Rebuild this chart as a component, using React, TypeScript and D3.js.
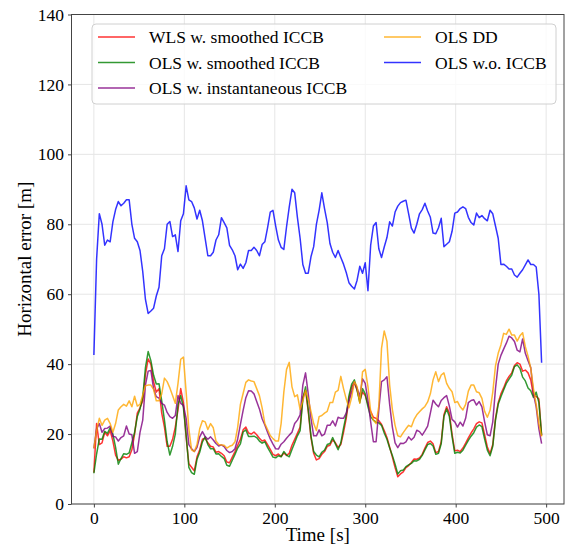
import React, { useRef, useEffect } from "react";
import * as d3 from "d3";

// sampled every 3 s, t = 0 .. 495
const STEP = 3;

const wlsSmoothed = [
  9, 23, 17, 17.5, 20.5, 19.5, 21, 18, 14, 12.5,
  12.8, 13.5, 13.2, 13.5, 15.5, 20, 26, 27.5, 29.5, 37,
  41.5, 40, 35, 32, 33, 26, 22, 16.5, 16.5, 18.5,
  22, 27, 33, 29, 19, 11.5, 10.5, 9.5, 13.5, 15.5,
  18.5, 18.8, 17.5, 16.5, 16.3, 14.8, 15, 14.5, 13.8, 12,
  11.8, 13.4, 15, 16.8, 18.5, 21.2, 22, 20.3, 20, 20.6,
  19.8, 18.8, 18, 18.3, 17, 15.6, 14.2, 13.8, 14.3, 13.6,
  14.6, 13.9, 14.5, 16.8, 18.5, 20.2, 22, 30.5, 32.5, 26.5,
  19, 14.5, 12.6, 13, 14.2, 15, 16.5, 16.8, 18.4, 17.5,
  16.2, 17, 20.5, 24.5, 30, 33.5, 34.8, 32.5, 29.5, 32,
  31, 28.5, 26.5, 24.8, 24.5, 23.8, 22.8, 21, 19, 16.3,
  13.4, 10.4, 7.8, 8.6, 9.2, 10.4, 11, 11.9, 12.9, 12.8,
  13.2, 14.2, 16, 17.6, 18, 17.2, 14.7, 15, 17.8, 25.5,
  27.8, 26, 20, 15.2, 15.4, 15, 16, 17.4, 18.9, 20.3,
  21.5, 23, 23.5, 23.2, 19.8, 16.3, 14.4, 17, 24.5, 29,
  31.5, 33.2, 35.2, 36.5, 37.5, 39.6, 40.4, 40, 38, 38.3,
  37.5, 35.5, 31, 30.8, 30, 19.5,
];

const olsSmoothed = [
  8.8, 14.3, 18.6, 18.5, 20.8, 20.2, 21.8, 20, 16.2, 11.4,
  13, 14.4, 14.2, 14.6, 17.5, 20.5, 25, 27.2, 30.5, 39,
  43.6, 41, 36.8, 34.3, 34.4, 29.5, 24, 17.8, 14, 16.5,
  20, 28.5, 31, 27.5, 19.8, 10.5, 9, 8.5, 12.8, 14.8,
  17.8, 19.2, 17, 15.8, 15.8, 14.3, 14.4, 13.6, 13, 11.1,
  10.8, 12.5, 14.2, 16, 17.2, 20.6, 21.2, 19.3, 19.3, 19.4,
  19, 18, 17.4, 17.8, 16.2, 14.8, 13.4, 13.2, 13.8, 13.5,
  15, 14, 13.5, 15.6, 17.5, 19.5, 21, 30, 33.5, 27,
  19.5, 15, 14, 13.5, 14.8, 15.4, 17, 17.3, 19, 17.2,
  15.5, 17.5, 21.7, 25.5, 31, 34.3, 35.5, 32.6, 29, 33,
  31.5, 27.8, 25, 24, 23.4, 23.2, 22.5, 20.3, 18.5, 16,
  13.9, 11.4, 8.6, 9.5, 9.7, 10.7, 11.2, 11.6, 12.4, 12.3,
  12.8, 13.9, 15.5, 17, 17.3, 16.6, 14.2, 14.5, 17.2, 25,
  27.2, 25, 19.3, 14.5, 14.8, 14.6, 15.4, 16.8, 18.2, 19.4,
  20.4, 22, 22.6, 22.1, 18.6, 15.4, 13.8, 16.5, 24, 28.5,
  30.7, 32.6, 34.5, 35.7, 36.9, 39.3, 39.8, 38.8, 36.3, 35.2,
  33.2, 32.4, 30.5, 32, 29, 19.7,
];

const olsInstantaneous = [
  15.9, 21.5, 23, 20.5, 21.6, 21.7, 22.3, 19.3, 19.2, 18,
  19, 19.5, 22.3, 20, 19.8, 14.5, 15, 20.5, 24, 34,
  38, 38.2, 33, 30.7, 30.3, 28.8, 28.3, 26.2, 25, 24.5,
  25.3, 31, 28.8, 28.2, 24.5, 17, 15.8, 15, 16.2, 19.2,
  20.7, 19.3, 18.5, 19.2, 18.3, 17.3, 16.6, 16.9, 16.4, 15.3,
  14.7, 15, 15.8, 18.6, 22.8, 26.8, 30.4, 32.4, 32.3, 31.5,
  29.3, 27.2, 24.4, 22.6, 20.5, 18.6, 17.1, 15.8, 15.7, 17.1,
  17.8, 18.8, 19.7, 20.5, 23, 24, 25.5, 34, 37.5, 31.5,
  24.5, 19.5, 19.5, 21.2, 19.5, 20, 22.5, 22.5, 23.8, 22.3,
  24.8, 24.5, 24.5, 26, 29.3, 32, 34.8, 33.1, 30.8, 35.8,
  34.5, 29.7, 23.5, 17.8, 17.8, 26.9, 35, 35.5, 36.4, 28.5,
  22, 17.5, 16.1, 17.4, 17.3, 17.8, 19.2, 18.3, 19.1, 21.1,
  20.7, 19.7, 20.9, 22.3, 26, 29.7, 28.6, 27.8, 29.6, 30.4,
  31, 28, 24.2, 23.5, 22, 23.4, 22.3, 24.5, 29, 29.6,
  29.8, 28.3, 29.3, 27.8, 23.5, 19.8, 19.5, 23.5, 33, 40,
  42.5, 44.3, 46, 48, 47.5, 46.5, 44, 43.5, 47.2, 43.1,
  41, 39, 31.5, 27.8, 21.5, 17.3,
];

const olsDD = [
  15.9, 21, 24.5, 22.5, 24, 24.5, 23, 20.5, 23, 26.9,
  27.8, 28.5, 28, 29.5, 27.8, 30.8, 28, 28.5, 31.2, 33.8,
  34, 34, 32.8, 29.5, 29.5, 31.5, 36, 35, 33.2, 31,
  28.8, 34.5, 41.4, 42, 32, 21.5, 15.5, 15, 17, 21.5,
  23.8, 23.5, 21.3, 23, 21.8, 18, 17, 16.9, 16.8, 16,
  16.5, 16.8, 17.8, 22, 28.5, 31.6, 34.8, 35.5, 35.2, 35,
  33, 31, 27.5, 23, 21.3, 19.6, 18.7, 18, 18, 23,
  32, 38.5, 40.5, 33.5, 30.7, 31.2, 27, 29.5, 32.5, 30,
  26.5, 23, 21, 25, 25.3, 26, 26.5, 29, 29, 32,
  32.5, 36.5, 33, 30, 27.5, 30.5, 35, 33.6, 28.8, 37.8,
  38.5, 33.6, 26.5, 24, 23, 28, 44.5, 49.5, 46.5, 34,
  27, 22.5, 19.5, 19.2, 20.4, 21.5, 22.5, 22.1, 24.2, 25.5,
  26.4, 27.2, 27.9, 29.2, 31.5, 35.5, 37.8, 35, 36.9, 37.5,
  34.5, 33.1, 32.1, 29, 29.3, 27.8, 26.9, 28.5, 32.3, 34,
  34, 32.1, 31.8, 30.2, 26.5, 24.8, 26.8, 32, 39.5, 43.1,
  45.5, 48.8, 48.5, 50, 48.3, 48.3, 46.6, 48.1, 49, 45,
  42.3, 38.8, 33, 28.5, 23, 19.3,
];

const olsNoIccb = [
  42.6, 70, 83, 80, 74, 75.5, 75, 80.7, 84.2, 86.5,
  85.3, 86, 87, 87, 80, 76, 75, 72.5, 66.5, 58.5,
  54.5, 55.2, 56, 59.5, 62, 71, 73, 80, 80.8, 76.5,
  77, 72.2, 81, 83, 91, 87, 86.5, 84.7, 81.5, 84,
  81, 76, 71, 71, 72, 75.5, 77, 81.9, 80.5, 79,
  74, 72.7, 71, 67, 68.6, 67.4, 69, 72.5, 72.5, 73.4,
  72.5, 71, 74.2, 75, 79, 83.5, 84, 79.5, 75.5, 73.4,
  72.8, 79.3, 85, 90, 89, 82, 76, 68.5, 66, 66,
  70.7, 73.6, 80, 84, 89, 84.5, 80.5, 74.5, 72, 70.5,
  72.5, 70.5, 68.6, 66.2, 63.3, 62.3, 61.5, 64, 68, 66,
  69, 61, 74, 79.5, 80.5, 73, 70.5, 73.5, 76.2, 80.7,
  79.5, 83.5, 85.2, 86.2, 86.6, 86.9, 83, 78.9, 77.5, 80,
  83, 84.2, 86, 83.8, 82, 77.5, 77.3, 79, 81.7, 73.6,
  74.3, 75, 78, 83.2, 83.5, 84.5, 85, 84.5, 82, 80.5,
  79.8, 83.2, 81.9, 82.5, 81.6, 81, 84, 83, 79.5, 76,
  68.5, 68.6, 68, 67.2, 67.2, 65.5, 64.9, 66, 67, 68.4,
  69.8, 68.5, 68.5, 67.8, 60, 40.4,
];

const seriesNames = [
  "WLS w. smoothed ICCB",
  "OLS w. smoothed ICCB",
  "OLS w. instantaneous ICCB",
  "OLS DD",
  "OLS w.o. ICCB",
];
const seriesColors = ["red", "green", "purple", "orange", "blue"];
const seriesValues = [wlsSmoothed, olsSmoothed, olsInstantaneous, olsDD, olsNoIccb];

const xTicks = [0, 100, 200, 300, 400, 500];
const yTicks = [0, 20, 40, 60, 80, 100, 120, 140];

const FONT = "'Liberation Serif', 'Times New Roman', serif";

const App = () => {
  const svgRef = useRef<SVGSVGElement>(null);

  useEffect(() => {
    const W = 569, H = 546;
    const margin = { top: 14.5, right: 5, bottom: 42, left: 71.5 };
    const svg = d3.select(svgRef.current);
    svg.selectAll("*").remove();

    const x = d3.scaleLinear().domain([-24.75, 519.75]).range([margin.left, W - margin.right]);
    const y = d3.scaleLinear().domain([0, 140]).range([H - margin.bottom, margin.top]);

    const grid = svg.append("g");
    xTicks.forEach(t => {
      grid.append("line")
        .attr("x1", x(t)).attr("x2", x(t))
        .attr("y1", y(0)).attr("y2", y(140))
        .attr("stroke", "#e6e6e6").attr("stroke-width", 1);
    });
    yTicks.forEach(t => {
      grid.append("line")
        .attr("x1", x.range()[0]).attr("x2", x.range()[1])
        .attr("y1", y(t)).attr("y2", y(t))
        .attr("stroke", "#e6e6e6").attr("stroke-width", 1);
    });

    const line = d3.line<number>()
      .x((d, i) => x(i * STEP))
      .y(d => y(d));

    seriesValues.forEach((vals, k) => {
      svg.append("path")
        .datum(vals)
        .attr("fill", "none")
        .attr("stroke", seriesColors[k])
        .attr("stroke-opacity", 0.8)
        .attr("stroke-width", 1.5)
        .attr("stroke-linejoin", "round")
        .attr("d", line);
    });

    // frame
    svg.append("rect")
      .attr("x", x.range()[0]).attr("y", y(140))
      .attr("width", x.range()[1] - x.range()[0])
      .attr("height", y(0) - y(140))
      .attr("fill", "none").attr("stroke", "#444").attr("stroke-width", 1);

    // axes
    const xAxis = svg.append("g")
      .attr("transform", `translate(0,${y(0)})`)
      .call(d3.axisBottom(x).tickValues(xTicks).tickSize(3.5).tickPadding(4));
    const yAxis = svg.append("g")
      .attr("transform", `translate(${x.range()[0]},0)`)
      .call(d3.axisLeft(y).tickValues(yTicks).tickSize(3.5).tickPadding(4));
    [xAxis, yAxis].forEach(a => {
      a.select(".domain").remove();
      a.selectAll("line").attr("stroke", "#444");
      a.selectAll("text")
        .attr("fill", "#000")
        .style("font-family", FONT)
        .style("font-size", "17.5px");
    });

    svg.append("text")
      .attr("x", (x.range()[0] + x.range()[1]) / 2)
      .attr("y", 541)
      .attr("text-anchor", "middle")
      .style("font-family", FONT)
      .style("font-size", "19px")
      .text("Time [s]");

    svg.append("text")
      .attr("transform", `translate(31,${(y(0) + y(140)) / 2}) rotate(-90)`)
      .attr("text-anchor", "middle")
      .style("font-family", FONT)
      .style("font-size", "19px")
      .text("Horizontal error [m]");

    // legend
    const lg = svg.append("g");
    lg.append("rect")
      .attr("x", 92).attr("y", 24).attr("width", 464).attr("height", 80)
      .attr("rx", 4)
      .attr("fill", "white").attr("fill-opacity", 0.8)
      .attr("stroke", "#d0d0d0");
    seriesNames.forEach((name, k) => {
      const col = k < 3 ? 0 : 1;
      const row = k < 3 ? k : k - 3;
      const lx = col === 0 ? 98 : 384;
      const ly = 37 + row * 25.5;
      lg.append("line")
        .attr("x1", lx).attr("x2", lx + 37)
        .attr("y1", ly).attr("y2", ly)
        .attr("stroke", seriesColors[k])
        .attr("stroke-opacity", 0.8)
        .attr("stroke-width", 1.5);
      lg.append("text")
        .attr("x", lx + 51).attr("y", ly + 6)
        .style("font-family", FONT)
        .style("font-size", "17.5px")
        .text(name);
    });
  }, []);

  return (
    <svg
      ref={svgRef}
      width={569}
      height={546}
      style={{ position: "absolute", left: 0, top: 0, background: "white" }}
    />
  );
};

export default App;
